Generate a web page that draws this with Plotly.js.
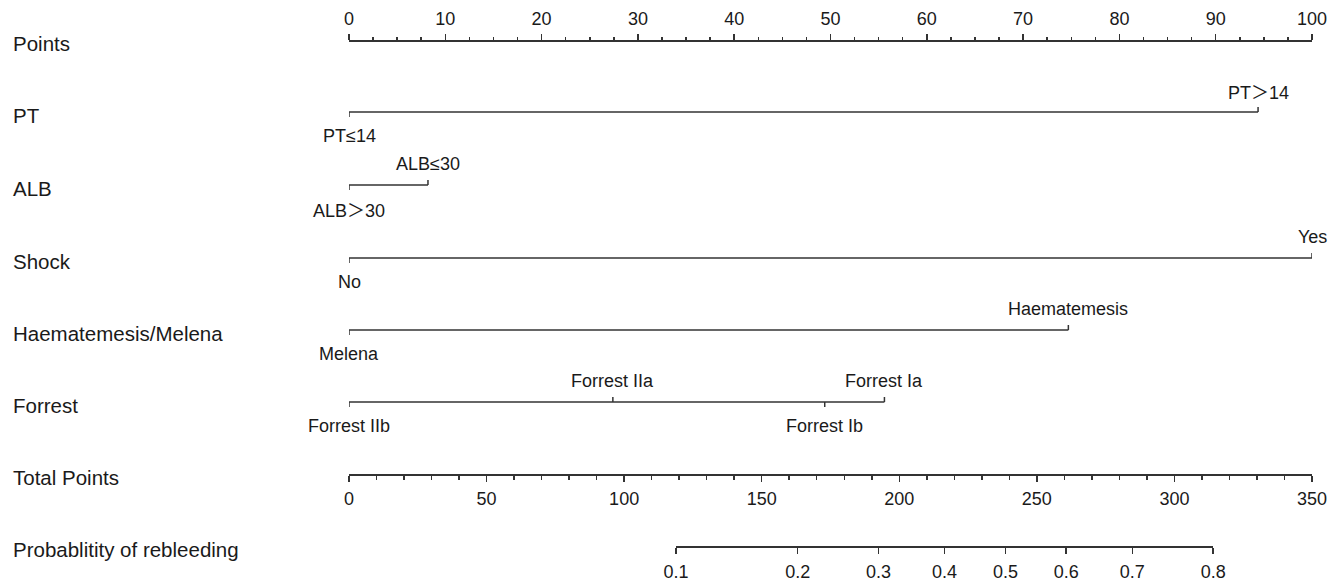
<!DOCTYPE html>
<html><head><meta charset="utf-8">
<script src="https://cdn.plot.ly/plotly-3.0.1.min.js"></script>
<style>html,body{margin:0;padding:0;background:#fff}</style>
</head><body><div id="chart" style="width:1340px;height:586px"></div>
<script>
// ---- data ----
const rowNames = ['Points','PT','ALB','Shock','Haematemesis/Melena','Forrest','Total Points','Probablitity of rebleeding'];
const ptLevels = ['PT≤14','PT＞14'];
const ptPoints = [0, 94.4];
const albLevels = ['ALB＞30','ALB≤30'];
const albPoints = [0, 8.2];
const shockLevels = ['No','Yes'];
const shockPoints = [0, 100];
const hmLevels = ['Melena','Haematemesis'];
const hmPoints = [0, 74.7];
const forrestLevels = ['Forrest IIb','Forrest IIa','Forrest Ib','Forrest Ia'];
const forrestPoints = [0, 27.4, 49.4, 55.6];
const pointsTicks = [0,10,20,30,40,50,60,70,80,90,100];
const totalTicks = [0,50,100,150,200,250,300,350];
const probTicks = [0.1,0.2,0.3,0.4,0.5,0.6,0.7,0.8];
const probTickText = ['0.1','0.2','0.3','0.4','0.5','0.6','0.7','0.8'];
const logitIntercept = -4.38;
const logitSlope = 0.01836;

// ---- layout helpers ----
const W = 1340, H = 586;
const M = {l:349, r:28, t:0, b:0};
const rowY = [40,112,185,258,330,402,474,546];
const LINE = '#333';
const TXT = '#1a1a1a';
const FONT = 'Liberation Sans, Arial, sans-serif';
const py = y => 1 - y / H;
const tp = p => (Math.log(p/(1-p)) - logitIntercept) / logitSlope;
const totalMax = totalTicks[totalTicks.length-1];
const fmt = s => s.replace('＞', '<span style="font-family:\'Noto Sans CJK SC\'">＞</span>');

const vars = [
  {levels: ptLevels, pts: ptPoints, row: 1},
  {levels: albLevels, pts: albPoints, row: 2},
  {levels: shockLevels, pts: shockPoints, row: 3},
  {levels: hmLevels, pts: hmPoints, row: 4},
  {levels: forrestLevels, pts: forrestPoints, row: 5}
];

const traces = [];
const annotations = [];
vars.forEach(v => {
  const y0 = rowY[v.row];
  const xs = [Math.min(...v.pts), Math.max(...v.pts), null];
  const ys = [y0, y0, null];
  v.pts.forEach((p, i) => {
    const below = i % 2 === 0;
    xs.push(p, p, null);
    ys.push(y0, below ? y0 + 5 : y0 - 5, null);
    annotations.push({
      text: fmt(v.levels[i]), x: p, y: below ? y0 + 24 : y0 - 21,
      xref: 'x', yref: 'y', showarrow: false, xanchor: 'center', yanchor: 'middle',
      font: {family: FONT, size: 18, color: TXT}
    });
  });
  traces.push({x: xs, y: ys, xaxis: 'x', yaxis: 'y', mode: 'lines', type: 'scatter',
    line: {color: LINE, width: 1.5}, hoverinfo: 'skip', showlegend: false, connectgaps: false});
});

// invisible anchors for the extra axes
traces.push({x: [0, totalMax], y: [-50, -50], xaxis: 'x2', yaxis: 'y', mode: 'markers',
  marker: {opacity: 0}, hoverinfo: 'skip', showlegend: false});
traces.push({x: [tp(probTicks[0]), tp(probTicks[probTicks.length-1])], y: [-50, -50], xaxis: 'x3', yaxis: 'y',
  mode: 'markers', marker: {opacity: 0}, hoverinfo: 'skip', showlegend: false});

rowNames.forEach((n, i) => {
  annotations.push({text: n, xref: 'paper', yref: 'y', x: -338 / (W - M.l - M.r), y: rowY[i] + 3,
    xanchor: 'left', yanchor: 'middle', showarrow: false, font: {family: FONT, size: 20.5, color: TXT}});
});

const axBase = {showgrid: false, zeroline: false, showline: true, linecolor: LINE, linewidth: 1.5,
  ticks: 'outside', tickcolor: LINE, tickwidth: 1.5, ticklen: 6, fixedrange: true,
  tickfont: {family: FONT, size: 18, color: TXT}};

const pLo = tp(probTicks[0]), pHi = tp(probTicks[probTicks.length-1]);

const layout = {
  width: W, height: H, margin: M, paper_bgcolor: '#fff', plot_bgcolor: 'rgba(0,0,0,0)',
  showlegend: false, font: {family: FONT, color: TXT},
  xaxis: Object.assign({}, axBase, {range: [0, 100], domain: [0, 1], side: 'top', anchor: 'free',
    position: py(rowY[0]), tickmode: 'array', tickvals: pointsTicks, ticktext: pointsTicks.map(String),
    ticklabelstandoff: 2,
    minor: {dtick: 2.5, tick0: 0, ticks: 'outside', ticklen: 3, tickcolor: LINE, tickwidth: 1.5, showgrid: false}}),
  xaxis2: Object.assign({}, axBase, {range: [0, totalMax], overlaying: 'x', side: 'bottom', anchor: 'free',
    position: py(rowY[6]), tickmode: 'array', tickvals: totalTicks, ticktext: totalTicks.map(String),
    ticklabelstandoff: 2,
    minor: {dtick: 10, tick0: 0, ticks: 'outside', ticklen: 4, tickcolor: LINE, tickwidth: 1.5, showgrid: false}}),
  xaxis3: Object.assign({}, axBase, {range: [pLo, pHi], domain: [pLo / totalMax, pHi / totalMax],
    side: 'bottom', anchor: 'free', position: py(rowY[7]), tickmode: 'array', ticklabelstandoff: 3,
    tickvals: probTicks.map(tp), ticktext: probTickText}),
  yaxis: {range: [H, 0], domain: [0, 1], visible: false, fixedrange: true},
  annotations: annotations
};

Plotly.newPlot('chart', traces, layout, {displayModeBar: false, staticPlot: true});
</script></body></html>
